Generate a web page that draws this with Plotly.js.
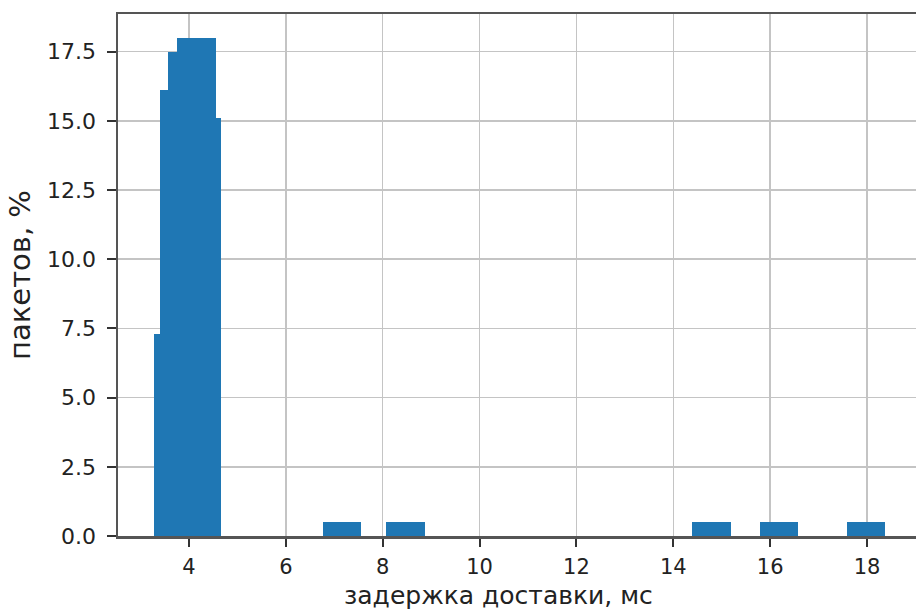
<!DOCTYPE html>
<html>
<head>
<meta charset="utf-8">
<script src="https://cdn.plot.ly/plotly-3.0.1.min.js"></script>
<style>html,body{margin:0;padding:0;background:#fff;}#chart{width:916px;height:612px;}</style>
</head>
<body>
<div id="chart"></div>
<script>
// delay values (ms) and share of packets (%)
const delays = [3.68, 3.80, 3.97, 4.16, 4.26, 7.16, 8.47, 14.78, 16.18, 17.98];
const packetsPct = [7.3, 16.1, 17.5, 18.0, 15.1, 0.5, 0.5, 0.5, 0.5, 0.5];
const xTicks = [4, 6, 8, 10, 12, 14, 16, 18];
const yTicks = [0, 2.5, 5, 7.5, 10, 12.5, 15, 17.5];
const yTickLabels = ['0.0', '2.5', '5.0', '7.5', '10.0', '12.5', '15.0', '17.5'];
const xTitle = 'задержка доставки, мс';
const yTitle = 'пакетов, %';

const trace = {
  type: 'bar',
  x: delays,
  y: packetsPct,
  width: 0.8,
  marker: {color: '#1f77b4', line: {width: 0}},
  opacity: 1,
  hoverinfo: 'x+y'
};

const font = 'DejaVu Sans, sans-serif';
const layout = {
  width: 916, height: 612,
  margin: {l: 118, r: 0, t: 14, b: 76, pad: 0},
  paper_bgcolor: '#fff', plot_bgcolor: '#fff',
  showlegend: false,
  bargap: 0,
  font: {family: font, color: '#222'},
  xaxis: {
    range: [2.534, 19.01],
    tickvals: xTicks,
    ticktext: xTicks.map(String),
    ticks: 'outside', ticklen: 8, tickwidth: 2, tickcolor: '#333',
    ticklabelstandoff: 2,
    showgrid: true, gridcolor: '#c4c4c4', gridwidth: 1.5,
    showline: true, linecolor: '#555', linewidth: 2.5, mirror: true,
    zeroline: false,
    tickfont: {family: font, size: 21, color: '#222'}
  },
  yaxis: {
    range: [0, 18.86],
    tickvals: yTicks,
    ticktext: yTickLabels,
    ticks: 'outside', ticklen: 9, tickwidth: 2, tickcolor: '#333',
    ticklabelstandoff: 6,
    showgrid: true, gridcolor: '#c4c4c4', gridwidth: 1.5,
    showline: true, linecolor: '#555', linewidth: 2.5,
    zeroline: false,
    tickfont: {family: font, size: 22, color: '#222'},
    title: {text: yTitle, font: {family: font, size: 29, color: '#222'}, standoff: 8}
  },
  annotations: [{
    text: xTitle,
    xref: 'paper', yref: 'paper',
    x: 0.4774, y: -0.114,
    xanchor: 'center', yanchor: 'middle',
    showarrow: false,
    font: {family: font, size: 25, color: '#222'}
  }]
};

Plotly.newPlot('chart', [trace], layout, {displayModeBar: false, staticPlot: true});
</script>
</body>
</html>
